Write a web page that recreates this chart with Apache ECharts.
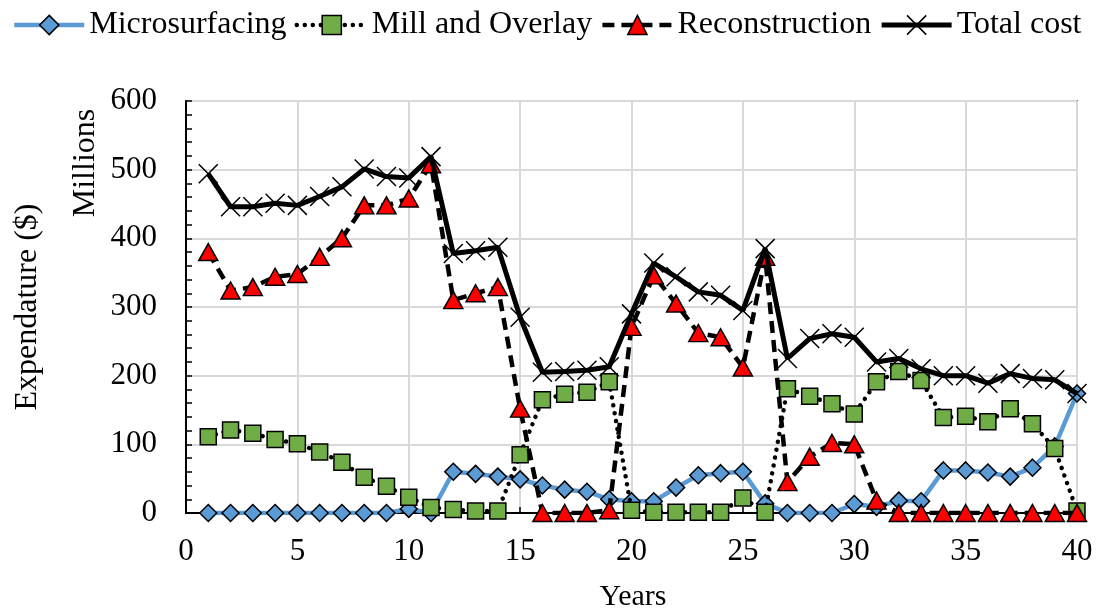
<!DOCTYPE html>
<html>
<head>
<meta charset="utf-8">
<title>Expenditure by treatment</title>
<script src="https://cdn.jsdelivr.net/npm/echarts@6/dist/echarts.min.js"></script>
<style>
  html, body { margin: 0; padding: 0; background: #fff; }
  #chart { width: 1098px; height: 613px; }
</style>
</head>
<body>
<div id="chart"></div>
<script>
// Annual expenditure per treatment type, millions of dollars
const years = Array.from({ length: 40 }, (_, i) => i + 1);

const microsurfacing = [
  0, 0, 0, 0, 0, 0, 0, 0, 0, 6,
  0, 60, 57, 53, 49, 40, 34, 31, 20, 17,
  17, 37, 55, 58, 60, 14, 0, 0, 0, 13,
  9, 18, 17, 62, 62, 59, 53, 66, 97, 174
];

const millOverlay = [
  111, 121, 116, 107, 101, 89, 74, 52, 39, 23,
  8, 5, 3, 3, 85, 165, 173, 176, 191, 4,
  1, 1, 1, 1, 22, 1, 181, 170, 159, 144,
  191, 206, 193, 139, 141, 133, 152, 130, 94, 3
];

const reconstruction = [
  380, 324, 329, 344, 348, 373, 400, 448, 448, 458,
  508, 310, 320, 329, 152, 0, 0, 0, 4, 271,
  346, 305, 262, 256, 212, 373, 45, 82, 102, 100,
  18, 0, 0, 0, 0, 0, 0, 0, 0, 0
];

const totalCost = [
  494, 446, 446, 451, 448, 461, 475, 501, 490, 488,
  519, 378, 382, 387, 285, 205, 206, 208, 213, 290,
  364, 344, 322, 317, 295, 385, 225, 254, 261, 256,
  220, 225, 210, 200, 200, 189, 203, 196, 194, 174
];

const xTicks = { min: 0, max: 40, interval: 5 };
const yTicks = { min: 0, max: 600, interval: 100 };

const FONT = '"Liberation Serif", "Times New Roman", serif';
const pair = (vals) => years.map((y, i) => [y, vals[i]]);

// Line and marker styles shared by the plot and the legend
const styles = {
  micro: {
    line: { color: '#5B9BD5', width: 4.5, type: 'solid' },
    item: { color: '#5B9BD5', borderColor: '#000', borderWidth: 1.5 }
  },
  mill: {
    line: { color: '#000', width: 4.5, type: [0.01, 8], cap: 'round' },
    item: { color: '#70AD47', borderColor: '#000', borderWidth: 1.5 }
  },
  recon: {
    line: { color: '#000', width: 4.5, type: [12, 7] },
    item: { color: '#FF0000', borderColor: '#000', borderWidth: 1.5 }
  },
  total: {
    line: { color: '#000', width: 5, type: 'solid' },
    item: { color: '#000', borderColor: '#000', borderWidth: 1.5 }
  }
};

const crossSymbol = 'path://M0,0L20,20M20,0L0,20';

const chart = echarts.init(document.getElementById('chart'), null, { renderer: 'canvas' });

chart.setOption({
  animation: false,
  backgroundColor: '#fff',
  textStyle: { fontFamily: FONT, color: '#000' },
  legend: {
    left: 12,
    top: 9,
    padding: 0,
    itemWidth: 70,
    itemHeight: 24,
    itemGap: 8,
    textStyle: { fontFamily: FONT, fontSize: 32, color: '#000' },
    data: [
      { name: 'Microsurfacing', lineStyle: styles.micro.line, itemStyle: styles.micro.item },
      { name: 'Mill and Overlay', lineStyle: styles.mill.line, itemStyle: styles.mill.item },
      { name: 'Reconstruction', lineStyle: styles.recon.line, itemStyle: styles.recon.item },
      { name: 'Total cost', lineStyle: styles.total.line, itemStyle: styles.total.item }
    ]
  },
  grid: {
    left: 186,
    right: 21,
    top: 101,
    bottom: 100,
    show: true,
    borderColor: '#000',
    borderWidth: 1.5,
    backgroundColor: 'transparent'
  },
  xAxis: {
    type: 'value',
    min: xTicks.min,
    max: xTicks.max,
    interval: xTicks.interval,
    axisLine: { show: true, onZero: false, lineStyle: { color: '#000', width: 2 } },
    axisTick: { show: true, inside: true, length: 6, lineStyle: { color: '#000', width: 1.5 } },
    axisLabel: { fontFamily: FONT, fontSize: 31, color: '#000', margin: 23 },
    splitLine: { show: true, lineStyle: { color: '#d9d9d9', width: 2 } }
  },
  yAxis: {
    type: 'value',
    min: yTicks.min,
    max: yTicks.max,
    interval: yTicks.interval,
    axisLine: { show: true, lineStyle: { color: '#000', width: 2 } },
    axisTick: { show: true, inside: true, length: 6, lineStyle: { color: '#000', width: 1.5 } },
    minorTick: { show: true, splitNumber: 5, length: 6, lineStyle: { color: '#000', width: 1.5 } },
    axisLabel: { fontFamily: FONT, fontSize: 31, color: '#000', margin: 29 },
    splitLine: { show: true, lineStyle: { color: '#d9d9d9', width: 2 } }
  },
  graphic: [
    {
      type: 'text',
      x: 28, y: 307,
      rotation: Math.PI / 2,
      style: {
        text: 'Expendature ($)',
        font: '32px ' + FONT,
        fill: '#000',
        textAlign: 'center',
        textVerticalAlign: 'middle'
      }
    },
    {
      type: 'text',
      x: 86, y: 163,
      rotation: Math.PI / 2,
      style: {
        text: 'Millions',
        font: '32px ' + FONT,
        fill: '#000',
        textAlign: 'center',
        textVerticalAlign: 'middle'
      }
    },
    {
      type: 'text',
      x: 633, y: 597,
      style: {
        text: 'Years',
        font: '30px ' + FONT,
        fill: '#000',
        textAlign: 'center',
        textVerticalAlign: 'middle'
      }
    }
  ],
  series: [
    {
      name: 'Microsurfacing',
      type: 'line',
      data: pair(microsurfacing),
      symbol: 'diamond',
      symbolSize: 17,
      lineStyle: styles.micro.line,
      itemStyle: styles.micro.item,
      z: 2
    },
    {
      name: 'Mill and Overlay',
      type: 'line',
      data: pair(millOverlay),
      symbol: 'rect',
      symbolSize: 16,
      lineStyle: styles.mill.line,
      itemStyle: styles.mill.item,
      z: 3
    },
    {
      name: 'Reconstruction',
      type: 'line',
      data: pair(reconstruction),
      symbol: 'triangle',
      symbolSize: [19, 17],
      lineStyle: styles.recon.line,
      itemStyle: styles.recon.item,
      z: 4
    },
    {
      name: 'Total cost',
      type: 'line',
      data: pair(totalCost),
      symbol: crossSymbol,
      symbolSize: 19,
      lineStyle: styles.total.line,
      itemStyle: styles.total.item,
      z: 5
    }
  ]
});
</script>
</body>
</html>
